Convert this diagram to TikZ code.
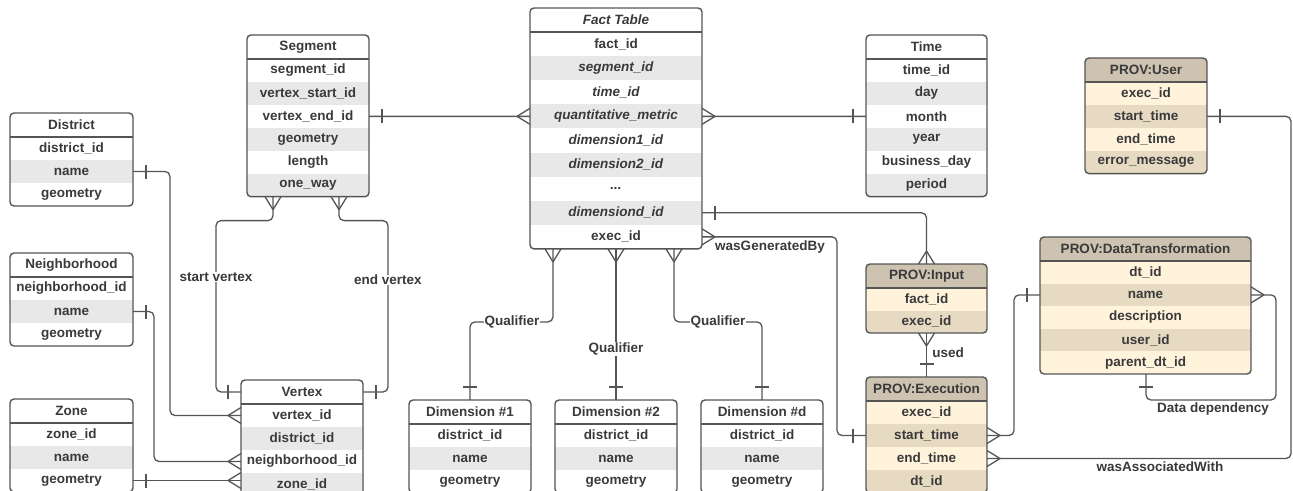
\documentclass[tikz,border=0pt]{standalone}
\usepackage{fontspec}
\setmainfont{Liberation Sans}
\usetikzlibrary{calc}

\definecolor{ln}{HTML}{555555}
\definecolor{tx}{HTML}{3A3A3A}
\definecolor{wHead}{HTML}{FFFFFF}
\definecolor{wOdd}{HTML}{FFFFFF}
\definecolor{wEven}{HTML}{E8E8E8}
\definecolor{pHead}{HTML}{CDC3B0}
\definecolor{pOdd}{HTML}{FFF3DC}
\definecolor{pEven}{HTML}{E6DAC3}

\tikzset{
 frm/.style={draw=ln, line width=1.4pt, rounded corners=4pt},
 conn/.style={draw=ln, line width=1.3pt, rounded corners=5pt},
 celltxt/.style={inner sep=0pt, outer sep=0pt, text=tx, font=\fontsize{13.5}{16}\selectfont\bfseries, anchor=north west},
 lbl/.style={fill=white, inner sep=0.5pt, text=tx, font=\fontsize{13.5}{16}\selectfont\bfseries},
 ermany/.pic={\draw[conn,rounded corners=0pt] (-13,0) -- (0,-8) (-13,0) -- (0,8);},
 erone/.pic={\draw[conn,rounded corners=0pt] (-13,-7) -- (-13,7);},
}

% #1 name, #2 x, #3 y, #4 width, #5 row height, #6 rows, #7 title, #8 row list, #9 palette
\newcommand\ertab[9]{%
 \pgfmathsetmacro\tbot{#3+24+#6*#5}%
 \begin{scope}
  \clip[rounded corners=4pt] (#2,#3) rectangle ({#2+#4},\tbot);
  \node[celltxt, fill=#9Head, minimum width=#4pt, minimum height=24pt] (#1-h) at (#2,#3) {#7};
  \foreach \r [count=\i] in {#8} {
   \pgfmathsetmacro\rtop{#3+24+(\i-1)*#5}
   \ifodd\i \def\rc{#9Odd}\else\def\rc{#9Even}\fi
   \node[celltxt, fill=\rc, minimum width=#4pt, minimum height=#5pt] (#1-\i) at (#2,\rtop) {\r};
  }
 \end{scope}
 \draw[frm] (#2,#3) rectangle ({#2+#4},\tbot);
 \draw[frm, rounded corners=0pt] (#2,{#3+24}) -- ({#2+#4},{#3+24});
}

\begin{document}
\begin{tikzpicture}[x=1pt,y=-1pt]
\useasboundingbox (0,0) rectangle (1293,490);
\clip (0,0) rectangle (1293,490);
\fill[white] (0,0) rectangle (1293,490);

% tables
\ertab{dist}{10}{113}{123}{23}{3}{District}{district\_id,name,geometry}{w}
\ertab{nbh}{10}{253}{123}{23}{3}{Neighborhood}{neighborhood\_id,name,geometry}{w}
\ertab{zone}{10}{399}{123}{23}{3}{Zone}{zone\_id,name,geometry}{w}
\ertab{seg}{247}{35}{122}{22.94}{6}{Segment}{segment\_id,vertex\_start\_id,vertex\_end\_id,geometry,length,one\_way}{w}
\ertab{vert}{241}{380}{122}{23}{4}{Vertex}{vertex\_id,district\_id,neighborhood\_id,zone\_id}{w}
\ertab{fact}{530}{8}{172}{24.1}{9}{\textit{Fact Table}}{fact\_id,\textit{segment\_id},\textit{time\_id},\textit{quantitative\_metric},\textit{dimension1\_id},\textit{dimension2\_id},\textit{...},\textit{dimensiond\_id},exec\_id}{w}
\ertab{time}{866}{35}{121}{22.94}{6}{Time}{time\_id,day,month,year,business\_day,period}{w}
\ertab{user}{1085}{58}{122}{22.9}{4}{PROV:User}{exec\_id,start\_time,end\_time,error\_message}{p}
\ertab{inp}{866}{264}{121}{22.5}{2}{PROV:Input}{fact\_id,exec\_id}{p}
\ertab{exe}{866}{377}{121}{23}{4}{PROV:Execution}{exec\_id,start\_time,end\_time,dt\_id}{p}
\ertab{dt}{1040}{237}{211}{22.6}{5}{PROV:DataTransformation}{dt\_id,name,description,user\_id,parent\_dt\_id}{p}
\ertab{dimA}{409}{400}{122}{23}{3}{Dimension \#1}{district\_id,name,geometry}{w}
\ertab{dimB}{555}{400}{122}{23}{3}{Dimension \#2}{district\_id,name,geometry}{w}
\ertab{dimD}{701}{400}{122}{23}{3}{Dimension \#d}{district\_id,name,geometry}{w}

% coordinates
\coordinate (zv) at (zone-3.east -| vert-4.west);
\coordinate (sv) at ($(seg-6.south west)+(26,0)$);
\coordinate (ev) at ($(seg-6.south west)+(92,0)$);
\coordinate (dd) at ($(dt-5.south west)+(106,0)$);
\coordinate (q1) at ($(fact-9.south west)+(23,0)$);
\coordinate (q2) at ($(fact-9.south west)+(86,0)$);
\coordinate (q3) at ($(fact-9.south west)+(144,0)$);

% connectors
\draw[conn] (dist-2.east) -- ++(37,0) |- (vert-1.west);
\pic[rotate=180] at (dist-2.east) {erone};
\pic at (vert-1.west) {ermany};

\draw[conn] (nbh-2.east) -- ++(21,0) |- (vert-3.west);
\pic[rotate=180] at (nbh-2.east) {erone};
\pic at (vert-3.west) {ermany};

\draw[conn] (zone-3.east) -- (zv);
\pic[rotate=180] at (zone-3.east) {erone};
\pic at (zv) {ermany};

\draw[conn] (sv) -- ++(0,24) -| ($(vert-h.west)+(-25,0)$) -- (vert-h.west);
\pic[rotate=90] at (sv) {ermany};
\pic at (vert-h.west) {erone};

\draw[conn] (ev) -- ++(0,24) -| ($(vert-h.east)+(25,0)$) -- (vert-h.east);
\pic[rotate=90] at (ev) {ermany};
\pic[rotate=180] at (vert-h.east) {erone};

\draw[conn] (seg-3.east) -- (fact-4.west);
\pic[rotate=180] at (seg-3.east) {erone};
\pic at (fact-4.west) {ermany};

\draw[conn] (fact-4.east) -- (time-3.west);
\pic[rotate=180] at (fact-4.east) {ermany};
\pic at (time-3.west) {erone};

\draw[conn] (fact-8.east) -| (inp-h.north);
\pic[rotate=180] at (fact-8.east) {erone};
\pic[rotate=-90] at (inp-h.north) {ermany};

\draw[conn] (fact-9.east) -| ($(exe-2.west)+(-29,0)$) -- (exe-2.west);
\pic[rotate=180] at (fact-9.east) {ermany};
\pic at (exe-2.west) {erone};

\draw[conn] (inp-2.south) -- (exe-h.north);
\pic[rotate=90] at (inp-2.south) {ermany};
\pic[rotate=-90] at (exe-h.north) {erone};

\draw[conn] (exe-2.east) -- ++(27,0) |- (dt-2.west);
\pic[rotate=180] at (exe-2.east) {ermany};
\pic at (dt-2.west) {erone};

\draw[conn] (dt-2.east) -- ++(25,0) |- ($(dd)+(0,26)$) -- (dd);
\pic[rotate=180] at (dt-2.east) {ermany};
\pic[rotate=90] at (dd) {erone};

\draw[conn] (user-2.east) -- ++(84,0) |- (exe-3.east);
\pic[rotate=180] at (user-2.east) {erone};
\pic[rotate=180] at (exe-3.east) {ermany};

\draw[conn] (q1) -- ++(0,73) -| (dimA-h.north);
\pic[rotate=90] at (q1) {ermany};
\pic[rotate=-90] at (dimA-h.north) {erone};

\draw[conn] (q2) -- (dimB-h.north);
\pic[rotate=90] at (q2) {ermany};
\pic[rotate=-90] at (dimB-h.north) {erone};

\draw[conn] (q3) -- ++(0,73) -| (dimD-h.north);
\pic[rotate=90] at (q3) {ermany};
\pic[rotate=-90] at (dimD-h.north) {erone};

% labels
\node[lbl] (l1) at (216,277) {start vertex};
\node[lbl] (l2) at (388,280) {end vertex};
\node[lbl] (l3) at (512,322) {Qualifier};
\node[lbl] (l4) at (616,349) {Qualifier};
\node[lbl] (l5) at (718,322) {Qualifier};
\node[lbl] (l6) at (770,247) {wasGeneratedBy};
\node[lbl] (l7) at (948,353) {used};
\node[lbl] (l8) at (1213,409) {Data dependency};
\node[lbl] (l9) at (1160,467) {wasAssociatedWith};
\end{tikzpicture}
\end{document}
